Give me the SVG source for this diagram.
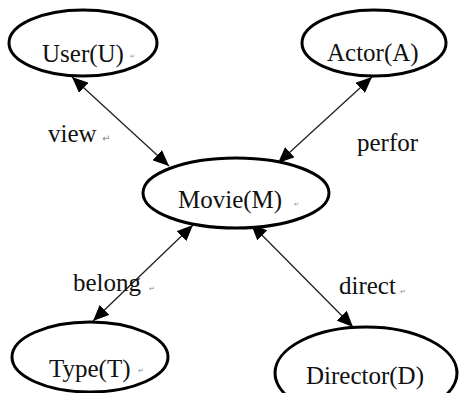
<svg xmlns="http://www.w3.org/2000/svg" width="459" height="393" viewBox="0 0 459 393">
  <style>
    .node ellipse { fill: #ffffff; stroke: #000000; stroke-width: 3; }
    .label { font-family: "Liberation Serif", "Times New Roman", serif; font-size: 25px; fill: #111111; }
    .mark { font-family: "DejaVu Sans", sans-serif; fill: #888888; }
    .edge { stroke: #222222; stroke-width: 1.3; fill: none; marker-start: url(#head); marker-end: url(#head); }
  </style>
  <defs>
    <marker id="head" viewBox="0 0 16 14" refX="16" refY="7" markerWidth="16" markerHeight="14" markerUnits="userSpaceOnUse" orient="auto-start-reverse">
      <path d="M0,0 L16,7 L0,14 Z" fill="#000000"/>
    </marker>
  </defs>

  <rect width="459" height="393" fill="#ffffff"/>

  <!-- connectors: every relation is drawn with arrowheads at both ends -->
  <g id="connectors">
    <line class="edge" x1="72" y1="77" x2="169" y2="166"/>
    <line class="edge" x1="372" y1="77" x2="278" y2="163"/>
    <line class="edge" x1="193" y1="225" x2="93" y2="321"/>
    <line class="edge" x1="251" y1="224" x2="353" y2="327"/>
  </g>

  <!-- relation labels -->
  <g id="edge-labels">
    <text class="label" x="48" y="142">view</text>
    <text class="mark" x="102" y="142" font-size="10">↵</text>
    <text class="label" x="357" y="151">perfor</text>
    <text class="label" x="73" y="291">belong</text>
    <text class="mark" x="149" y="291" font-size="7">↵</text>
    <text class="label" x="339" y="294">direct</text>
    <text class="mark" x="400" y="294" font-size="7">↵</text>
  </g>

  <g id="user" class="node">
    <ellipse cx="83" cy="43" rx="74" ry="33"/>
    <text class="label" x="42" y="62">User(U)</text>
    <text class="mark" x="130" y="58" font-size="6">↵</text>
  </g>

  <g id="actor" class="node">
    <ellipse cx="374" cy="43" rx="72" ry="33"/>
    <text class="label" x="327" y="61">Actor(A)</text>
  </g>

  <g id="movie" class="node">
    <ellipse cx="236" cy="193" rx="93" ry="35"/>
    <text class="label" x="178" y="208">Movie(M)</text>
    <text class="mark" x="294" y="206" font-size="6">↵</text>
  </g>

  <g id="type" class="node">
    <ellipse cx="90" cy="357" rx="78" ry="35"/>
    <text class="label" x="49" y="377">Type(T)</text>
    <text class="mark" x="138" y="373" font-size="7">↵</text>
  </g>

  <g id="director" class="node">
    <ellipse cx="366" cy="373" rx="91" ry="46"/>
    <text class="label" x="306" y="384">Director(D)</text>
  </g>
</svg>
